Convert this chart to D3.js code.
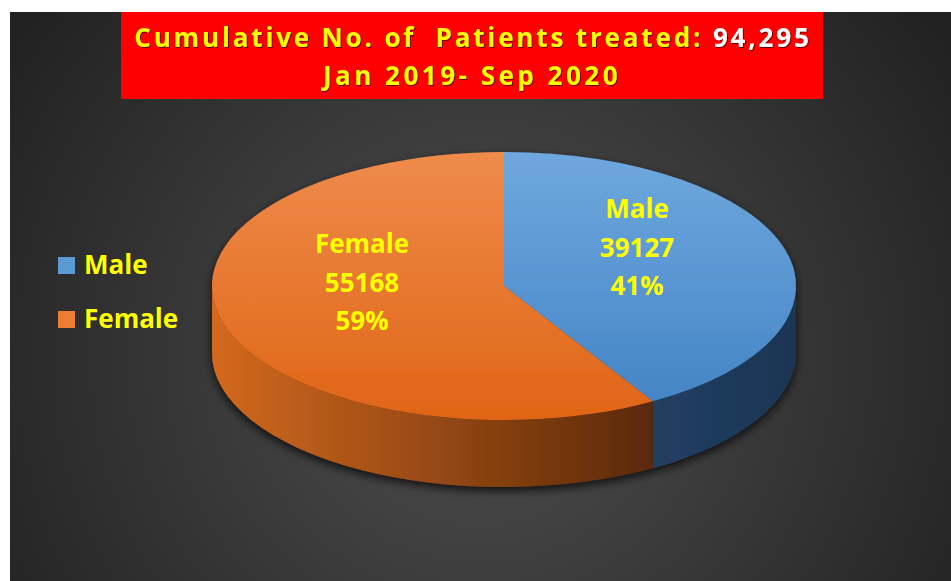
<!DOCTYPE html>
<html>
<head>
<meta charset="utf-8">
<script src="https://cdn.jsdelivr.net/npm/d3@7"></script>
<style>
  body { margin: 0; background: #fff; }
  svg { display: block; font-family: "Open Sans", "Noto Sans", sans-serif; font-weight: 700; }
</style>
</head>
<body>
<div id="chart"></div>
<script>
// --------------------------------------
//  Data
// --------------------------------------

const categories = ["Male", "Female"];
const patients = [39127, 55168];
const percents = ["41%", "59%"];
const titleLine1 = "Cumulative No. of  Patients treated: ";
const titleTotal = "94,295";
const titleLine2 = "Jan 2019- Sep 2020";

// --------------------------------------
//  Margin and canvas
// --------------------------------------

const width = 951;
const height = 581;

const svg = d3.select("#chart")
  .append("svg")
    .attr("width", width)
    .attr("height", height)
    .attr("viewBox", `0, 0, ${width}, ${height}`);

const defs = svg.append("defs");

// background gradient
const bg = defs.append("radialGradient")
    .attr("id", "bg")
    .attr("gradientUnits", "userSpaceOnUse")
    .attr("cx", 480).attr("cy", 360).attr("r", 560);
bg.append("stop").attr("offset", "0%").attr("stop-color", "#4f4f4f");
bg.append("stop").attr("offset", "100%").attr("stop-color", "#222222");

// top faces
const topGrad = [
  {id: "topMale", c0: "#6fa8de", c1: "#4585c6"},
  {id: "topFemale", c0: "#ef8b4b", c1: "#e06516"}
];
topGrad.forEach(g => {
  const lg = defs.append("linearGradient")
      .attr("id", g.id)
      .attr("x1", 0).attr("y1", 0).attr("x2", 0).attr("y2", 1);
  lg.append("stop").attr("offset", "0%").attr("stop-color", g.c0);
  lg.append("stop").attr("offset", "100%").attr("stop-color", g.c1);
});

// side faces
const sideGrad = [
  {id: "sideMale", c0: "#213f62", c1: "#1b3554"},
  {id: "sideFemale", c0: "#d3691f", c1: "#5a2908"}
];
sideGrad.forEach(g => {
  const lg = defs.append("linearGradient")
      .attr("id", g.id)
      .attr("x1", 0).attr("y1", 0).attr("x2", 1).attr("y2", 0);
  lg.append("stop").attr("offset", "0%").attr("stop-color", g.c0);
  lg.append("stop").attr("offset", "100%").attr("stop-color", g.c1);
});

const shadow = defs.append("filter")
    .attr("id", "shadow")
    .attr("x", "-10%").attr("y", "-10%")
    .attr("width", "120%").attr("height", "130%");
shadow.append("feDropShadow")
    .attr("dx", 0).attr("dy", 4)
    .attr("stdDeviation", 5)
    .attr("flood-color", "#000")
    .attr("flood-opacity", 0.75);

const textShadow = defs.append("filter").attr("id", "tshadow");
textShadow.append("feDropShadow")
    .attr("dx", 1).attr("dy", 1)
    .attr("stdDeviation", 0.6)
    .attr("flood-color", "#000")
    .attr("flood-opacity", 0.6);

svg.append("rect")
    .attr("x", 10).attr("y", 12)
    .attr("width", width - 10).attr("height", height - 12)
    .attr("fill", "url(#bg)");

// --------------------------------------
//  Title
// --------------------------------------

svg.append("rect")
    .attr("x", 121).attr("y", 12)
    .attr("width", 702).attr("height", 87)
    .attr("fill", "#ff0000");

const title = svg.append("g")
    .attr("text-anchor", "middle")
    .attr("font-size", 26)
    .attr("filter", "url(#tshadow)");

const t1 = title.append("text")
    .attr("xml:space", "preserve")
    .attr("x", 473).attr("y", 47)
    .attr("letter-spacing", 2.85);
t1.append("tspan").attr("fill", "#ffff00").text(titleLine1);
t1.append("tspan").attr("fill", "#ffffff").text(titleTotal);

title.append("text")
    .attr("x", 472).attr("y", 85)
    .attr("letter-spacing", 3.5)
    .attr("fill", "#ffff00")
    .text(titleLine2);

// --------------------------------------
//  3D pie
// --------------------------------------

const cx = 504, cy = 286, rx = 292, ry = 134, depth = 67;

const color = d3.scaleOrdinal()
    .domain(categories)
    .range(["url(#topMale)", "url(#topFemale)"]);

const sideColor = d3.scaleOrdinal()
    .domain(categories)
    .range(["url(#sideMale)", "url(#sideFemale)"]);

const pie = d3.pie().sort(null).value(d => d.value);
const arcs = pie(categories.map((c, i) => ({name: c, value: patients[i], pct: percents[i]})));

const pt = (a, dy = 0) => [cx + rx * Math.sin(a), cy - ry * Math.cos(a) + dy];

const topPath = d => {
  const p0 = pt(d.startAngle), p1 = pt(d.endAngle);
  const large = d.endAngle - d.startAngle > Math.PI ? 1 : 0;
  return `M${cx},${cy}L${p0}A${rx},${ry} 0 ${large} 1 ${p1}Z`;
};

const sidePath = d => {
  const s = Math.max(d.startAngle, Math.PI / 2);
  const e = Math.min(d.endAngle, Math.PI * 1.5);
  if (e <= s) return null;
  const a = pt(s), b = pt(e), b2 = pt(e, depth), a2 = pt(s, depth);
  return `M${a}A${rx},${ry} 0 0 1 ${b}L${b2}A${rx},${ry} 0 0 0 ${a2}Z`;
};

const pieG = svg.append("g").attr("filter", "url(#shadow)");

pieG.append("g")
  .selectAll("path")
  .data(arcs.filter(d => sidePath(d)))
  .join("path")
    .attr("d", sidePath)
    .attr("fill", d => sideColor(d.data.name));

pieG.append("g")
  .selectAll("path")
  .data(arcs)
  .join("path")
    .attr("d", topPath)
    .attr("fill", d => color(d.data.name));

// labels
const labelPos = {Male: [637, 218], Female: [362, 253]};

svg.append("g")
    .attr("text-anchor", "middle")
    .attr("font-size", 26)
    .attr("fill", "#ffff00")
  .selectAll("text")
  .data(arcs)
  .join("text")
    .attr("x", d => labelPos[d.data.name][0])
    .attr("y", d => labelPos[d.data.name][1])
    .each(function(d) {
      const lines = [d.data.name, d.data.value, d.data.pct];
      d3.select(this).selectAll("tspan")
        .data(lines)
        .join("tspan")
          .attr("x", labelPos[d.data.name][0])
          .attr("dy", (l, i) => i === 0 ? 0 : 38.5)
          .text(l => l);
    });

// --------------------------------------
//  Legend
// --------------------------------------

const legendColor = d3.scaleOrdinal()
    .domain(categories)
    .range(["#5b9bd5", "#ed7d31"]);

const legend = svg.append("g")
  .selectAll("g")
  .data(categories)
  .join("g")
    .attr("transform", (d, i) => `translate(58, ${257 + i * 54})`);

legend.append("rect")
    .attr("width", 17).attr("height", 17)
    .attr("fill", d => legendColor(d));

legend.append("text")
    .attr("x", 26).attr("y", 17)
    .attr("font-size", 26)
    .attr("fill", "#ffff00")
    .text(d => d);
</script>
</body>
</html>
